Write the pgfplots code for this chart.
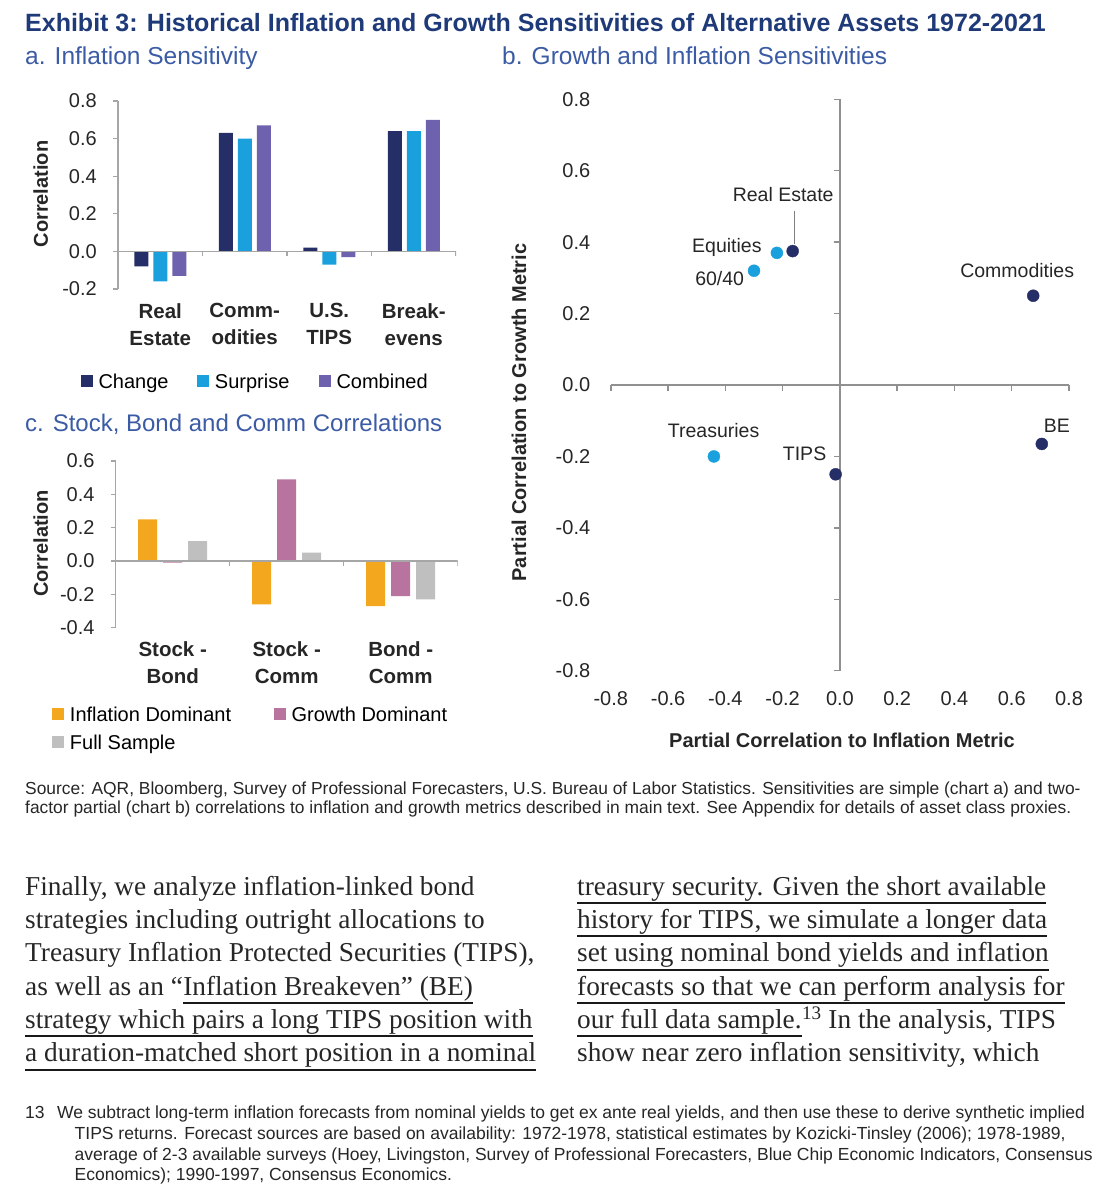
\documentclass[border=0pt]{standalone}
\usepackage{pgfplots}
\pgfplotsset{compat=1.18}
\usepackage{fontspec}
\setmainfont{Liberation Sans}
\newfontfamily\bodyfont{Liberation Serif}

\definecolor{titleblue}{HTML}{1F3A78}
\definecolor{subblue}{HTML}{3B5BA5}
\definecolor{cchange}{HTML}{252E66}
\definecolor{csurprise}{HTML}{1AA0DC}
\definecolor{ccombined}{HTML}{6E62AE}
\definecolor{cinfl}{HTML}{F2A71E}
\definecolor{cgrowth}{HTML}{B8739F}
\definecolor{cfull}{HTML}{BFBFBF}
\definecolor{axisgray}{HTML}{A6A6A6}
\definecolor{crossgray}{HTML}{909090}
\definecolor{txt}{HTML}{262626}

\newcommand{\fs}[2]{\fontsize{#1bp}{#2bp}\selectfont}

\tikzset{lab/.style={font=\fs{19.5}{23}, text=txt, inner sep=0pt}}

\pgfplotsset{
  sq/.style={legend image code/.code={\fill[##1] (0bp,-6bp) rectangle (12bp,6bp);}},
  barchart/.style={
    scale only axis, anchor=south west,
    axis x line*=bottom, axis y line*=left,
    axis line style={-},
    x axis line style={draw=none},
    y axis line style={axisgray, line width=1.2bp},
    xtick style={draw=none},
    ytick style={axisgray, line width=1.2bp},
    tick align=outside, major tick length=5bp,
    ytick pos=left,
    tick label style={font=\fs{20}{24}, text=txt},
    yticklabel style={inner sep=0pt, xshift=-16bp},
    xticklabel style={inner sep=0pt, yshift=-9bp, align=center, font=\bfseries\fs{20.5}{27}},
    legend style={draw=none, fill=none, inner sep=0pt, font=\fs{20}{24},
      nodes={inner sep=0pt}, anchor=west,
      /tikz/every odd column/.append style={column sep=6bp}},
    legend cell align=left,
  },
  scat/.style={
    scale only axis, anchor=south west,
    width=458.2bp, height=571.4bp,
    xmin=-0.8, xmax=0.8, ymin=-0.8, ymax=0.8,
    xtick={-0.8,-0.6,-0.4,-0.2,0,0.2,0.4,0.6,0.8},
    ytick={-0.8,-0.6,-0.4,-0.2,0,0.2,0.4,0.6,0.8},
  }
}

\begin{document}
\begin{tikzpicture}[x=1bp, y=1bp]
\useasboundingbox (0,0) rectangle (1106,-1200);

% headings
\node[anchor=base west, inner sep=0pt, font=\bfseries\fs{25}{30}, text=titleblue] at (25,-31)
  {Exhibit 3: Historical Inflation and Growth Sensitivities of Alternative Assets 1972-2021};
\node[anchor=base west, inner sep=0pt, font=\fs{24.5}{29}, text=subblue] at (25,-64) {a. Inflation Sensitivity};
\node[anchor=base west, inner sep=0pt, font=\fs{24.5}{29}, text=subblue] at (502,-64) {b. Growth and Inflation Sensitivities};
\node[anchor=base west, inner sep=0pt, font=\fs{24}{29}, text=subblue] at (25,-431) {c. Stock, Bond and Comm Correlations};

% a. inflation sensitivity
\begin{axis}[barchart, at={(118bp,-289bp)}, width=338bp, height=188bp,
  ybar=5bp, bar width=14bp,
  xmin=-0.5, xmax=3.5, ymin=-0.2, ymax=0.8,
  xtick={0,1,2,3}, xticklabels={{Real\\Estate},{Comm-\\odities},{U.S.\\TIPS},{Break-\\evens}},
  ytick={-0.2,0,0.2,0.4,0.6,0.8}, yticklabels={-0.2,0.0,0.2,0.4,0.6,0.8},
  legend columns=3, legend style={at={(-0.1115,-0.49)}}]
\addplot[fill=cchange, draw=none, sq] coordinates {(0,-0.08) (1,0.63) (2,0.02) (3,0.64)};
\addplot[fill=csurprise, draw=none, sq] coordinates {(0,-0.16) (1,0.60) (2,-0.07) (3,0.64)};
\addplot[fill=ccombined, draw=none, sq] coordinates {(0,-0.13) (1,0.67) (2,-0.03) (3,0.70)};
\draw[axisgray, line width=1.2bp] (axis cs:-0.5,0) -- (axis cs:3.5,0);
\pgfplotsinvokeforeach{0.5,1.5,2.5,3.5}{\draw[axisgray, line width=1.2bp] (axis cs:#1,0) -- ++(0bp,-5bp);}
\legend{\makebox[98.4bp][l]{\strut Change}, \makebox[103.6bp][l]{\strut Surprise}, \strut Combined}
\end{axis}
\node[rotate=90, font=\bfseries\fs{20}{24}, text=txt] at (40.7,-194) {Correlation};

% c. stock, bond and comm correlations
\begin{axis}[barchart, at={(115.7bp,-627.7bp)}, width=342bp, height=166.7bp,
  ybar=6bp, bar width=19bp,
  xmin=-0.5, xmax=2.5, ymin=-0.4, ymax=0.6,
  xtick={0,1,2}, xticklabels={{Stock -\\Bond},{Stock -\\Comm},{Bond -\\Comm}},
  ytick={-0.4,-0.2,0,0.2,0.4,0.6}, yticklabels={-0.4,-0.2,0.0,0.2,0.4,0.6},
  legend columns=2, legend style={at={(-0.187,-0.602)}, row sep=9.5bp}]
\addplot[fill=cinfl, draw=none, sq] coordinates {(0,0.25) (1,-0.26) (2,-0.27)};
\addplot[fill=cgrowth, draw=none, sq] coordinates {(0,-0.01) (1,0.49) (2,-0.21)};
\addplot[fill=cfull, draw=none, sq] coordinates {(0,0.12) (1,0.05) (2,-0.23)};
\draw[axisgray, line width=1.2bp] (axis cs:-0.5,0) -- (axis cs:2.5,0);
\pgfplotsinvokeforeach{0.5,1.5,2.5}{\draw[axisgray, line width=1.2bp] (axis cs:#1,0) -- ++(0bp,-5bp);}
\legend{\makebox[203.6bp][l]{\strut Inflation Dominant}, \strut Growth Dominant, \strut Full Sample}
\end{axis}
\node[rotate=90, font=\bfseries\fs{20}{24}, text=txt] at (40.7,-543.5) {Correlation};

% b. growth and inflation sensitivities: axis cross through the origin
\begin{axis}[scat, at={(610.8bp,-670.7bp)},
  axis lines=middle, axis line style={-, crossgray, line width=1.5bp},
  xticklabels={}, yticklabels={},
  tick style={crossgray, line width=1.5bp}, tick align=outside, major tick length=6bp]
\end{axis}
% points and tick labels
\begin{axis}[scat, at={(610.8bp,-670.7bp)},
  axis line style={draw=none}, tick style={draw=none}, clip=false,
  xticklabels={-0.8,-0.6,-0.4,-0.2,0.0,0.2,0.4,0.6,0.8},
  yticklabels={-0.8,-0.6,-0.4,-0.2,0.0,0.2,0.4,0.6,0.8},
  tick label style={font=\fs{20}{24}, text=txt, inner sep=0pt},
  xticklabel style={yshift=-21bp}, yticklabel style={xshift=-20.4bp}]
\addplot[only marks, mark=*, mark size=6bp, cchange] coordinates {(-0.165,0.375) (0.675,0.25) (-0.015,-0.25) (0.705,-0.165)};
\addplot[only marks, mark=*, mark size=6bp, csurprise] coordinates {(-0.22,0.37) (-0.30,0.32) (-0.44,-0.20)};
\node[lab, anchor=center] at (axis cs:-0.198,0.532) {Real Estate};
\draw[gray, line width=1bp] (axis cs:-0.157,0.488) -- (axis cs:-0.157,0.395);
\node[lab, anchor=base east] at (axis cs:-0.273,0.370) {Equities};
\node[lab, anchor=base east] at (axis cs:-0.334,0.280) {60/40};
\node[lab, anchor=base] at (axis cs:0.619,0.302) {Commodities};
\node[lab, anchor=base] at (axis cs:-0.441,-0.1465) {Treasuries};
\node[lab, anchor=base east] at (axis cs:-0.047,-0.212) {TIPS};
\node[lab, anchor=base] at (axis cs:0.758,-0.1325) {BE};
\end{axis}
\node[rotate=90, font=\bfseries\fs{20}{24}, text=txt] at (519,-412.5) {Partial Correlation to Growth Metric};
\node[font=\bfseries\fs{20}{24}, text=txt] at (842,-740) {Partial Correlation to Inflation Metric};

% source note
\begin{scope}[every node/.style={anchor=base west, inner sep=0pt, font=\fs{17.4}{20}, text=txt}]
\node at (25,-794) {Source: AQR, Bloomberg, Survey of Professional Forecasters, U.S. Bureau of Labor Statistics. Sensitivities are simple (chart a) and two-};
\node at (25,-813.5) {factor partial (chart b) correlations to inflation and growth metrics described in main text. See Appendix for details of asset class proxies.};
\end{scope}

% body text
\begin{scope}[every node/.style={anchor=base west, inner sep=0pt, font=\bodyfont\fs{27.3}{33}, text=txt},
  ul/.style={line width=2bp, black!90}]
\node at (25,-895) {Finally, we analyze inflation-linked bond};
\node at (25,-928.3) {strategies including outright allocations to};
\node at (25,-961.7) {Treasury Inflation Protected Securities (TIPS),};
\node (l4a) at (25,-995) {as well as an “};
\node (l4b) at (l4a.base east) {Inflation Breakeven” (BE)};
\node (l5) at (25,-1028.3) {strategy which pairs a long TIPS position with};
\node (l6) at (25,-1061.7) {a duration-matched short position in a nominal};
\draw[ul] ([yshift=-8bp]l4b.base west) -- ([yshift=-8bp]l4b.base east);
\draw[ul] ([yshift=-8bp]l5.base west) -- ([yshift=-8bp]l5.base east);
\draw[ul] ([yshift=-8bp]l6.base west) -- ([yshift=-8bp]l6.base east);
\node (r1) at (577,-895) {treasury security. Given the short available};
\node (r2) at (577,-928.3) {history for TIPS, we simulate a longer data};
\node (r3) at (577,-961.7) {set using nominal bond yields and inflation};
\node (r4) at (577,-995) {forecasts so that we can perform analysis for};
\node (r5a) at (577,-1028.3) {our full data sample.};
\node (r5b) at (r5a.base east) {\textsuperscript{13} In the analysis, TIPS};
\node at (577,-1061.7) {show near zero inflation sensitivity, which};
\foreach \n in {r1,r2,r3,r4,r5a}
  \draw[ul] ([yshift=-8bp]\n.base west) -- ([yshift=-8bp]\n.base east);
\end{scope}

% footnote
\begin{scope}[every node/.style={anchor=base west, inner sep=0pt, font=\fs{17.5}{20}, text=txt}]
\node at (25,-1118) {13};
\node at (57,-1118) {We subtract long-term inflation forecasts from nominal yields to get ex ante real yields, and then use these to derive synthetic implied};
\node at (74.5,-1139) {TIPS returns. Forecast sources are based on availability: 1972-1978, statistical estimates by Kozicki-Tinsley (2006); 1978-1989,};
\node at (74.5,-1160) {average of 2-3 available surveys (Hoey, Livingston, Survey of Professional Forecasters, Blue Chip Economic Indicators, Consensus};
\node at (74.5,-1180) {Economics); 1990-1997, Consensus Economics.};
\end{scope}
\end{tikzpicture}
\end{document}
